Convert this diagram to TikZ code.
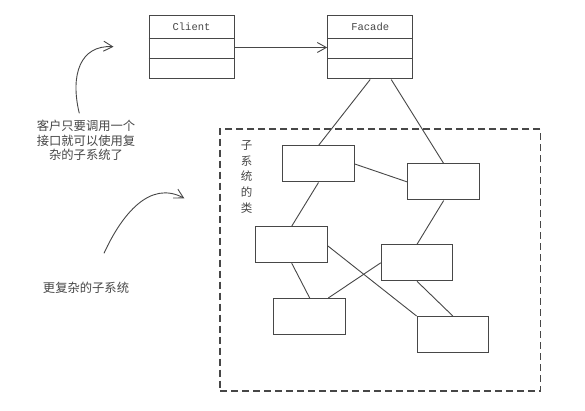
\documentclass[tikz,border=0pt]{standalone}
\usepackage{fontspec}
\newfontfamily\cjk{Noto Sans CJK SC}
\setmonofont{Liberation Mono}
\usetikzlibrary{arrows.meta}
\colorlet{ink}{black!72}
\tikzset{
  clsbox/.style={draw=ink, line width=1pt, minimum width=85pt, minimum height=63pt, inner sep=0pt},
  subbox/.style={draw=ink, line width=1pt, minimum width=71.5pt, minimum height=36pt, inner sep=0pt},
  link/.style={draw=ink, line width=0.9pt},
  clsname/.style={font=\ttfamily\fontsize{10.5pt}{12pt}\selectfont, text=ink, inner sep=0pt},
  note/.style={font=\cjk\fontsize{12.3pt}{14.6pt}\selectfont, text=ink, align=center, inner sep=0pt},
  barb/.style={-{Straight Barb[length=9pt,width=10pt,line width=0.9pt]}},
  framebox/.style={draw=ink, line width=1.1pt, dash pattern=on 7pt off 4pt, minimum width=320.7pt, minimum height=262pt, inner sep=0pt}
}
\begin{document}
\begin{tikzpicture}[x=1pt,y=-1pt]
\useasboundingbox[fill=white] (0,0) rectangle (585,411);

% class boxes
\node[clsbox] (client) at (191.5,47.5) {};
\node[clsbox] (facade) at (370.2,47.5) {};
\foreach \n in {client,facade}{
  \draw[ink, line width=1pt] ([yshift=-23.3pt]\n.north west) -- ([yshift=-23.3pt]\n.north east);
  \draw[ink, line width=1pt] ([yshift=-43.3pt]\n.north west) -- ([yshift=-43.3pt]\n.north east);
}
\node[clsname] (clientname) at ([yshift=-11.7pt]client.north) {Client};
\node[clsname] (facadename) at ([yshift=-11.7pt]facade.north) {Facade};

\draw[link, barb] (client.east) -- (facade.west);

% subsystem frame
\node[framebox] (frame) at (380.35,260) {};
\node[font=\cjk\fontsize{11.5pt}{15.7pt}\selectfont, text=ink, align=center, inner sep=0pt] (sublabel) at (246.7,176.8) {子\\系\\统\\的\\类};

% subsystem classes
\node[subbox] (A) at (318.5,164) {};
\node[subbox] (B) at (443.7,182) {};
\node[subbox] (C) at (291.7,244.7) {};
\node[subbox] (D) at (417,262.8) {};
\node[subbox] (E) at (309.7,316.5) {};
\node[subbox] (F) at (452.8,334.5) {};

\draw[link] (facade.south) -- (A.north);
\draw[link] ([xshift=21pt]facade.south) -- (B.north);
\draw[link] (A.east) -- (B.west);
\draw[link] (A.south) -- (C.north);
\draw[link] (B.south) -- (D.north);
\draw[link] ([yshift=-1.3pt]C.east) -- (F.north west);
\draw[link] (C.south) -- (E.north);
\draw[link] (D.west) -- ([xshift=18.6pt]E.north);
\draw[link] (D.south) -- (F.north);

% notes
\node[note] (note1) at (86,140.5) {客户只要调用一个\\接口就可以使用复\\杂的子系统了};
\node[note] (note2) at (86,288.3) {更复杂的子系统};

\coordinate (a1s) at (79.3,113.3);
\coordinate (a1e) at (113.5,46.7);
\coordinate (a2s) at (104,253.3);
\coordinate (a2e) at (184.3,198.3);
\draw[link, barb] (a1s) .. controls (70,75) and (80,45) .. (a1e);
\draw[link, barb] (a2s) .. controls (122,214) and (150,180) .. (a2e);
\end{tikzpicture}
\end{document}
